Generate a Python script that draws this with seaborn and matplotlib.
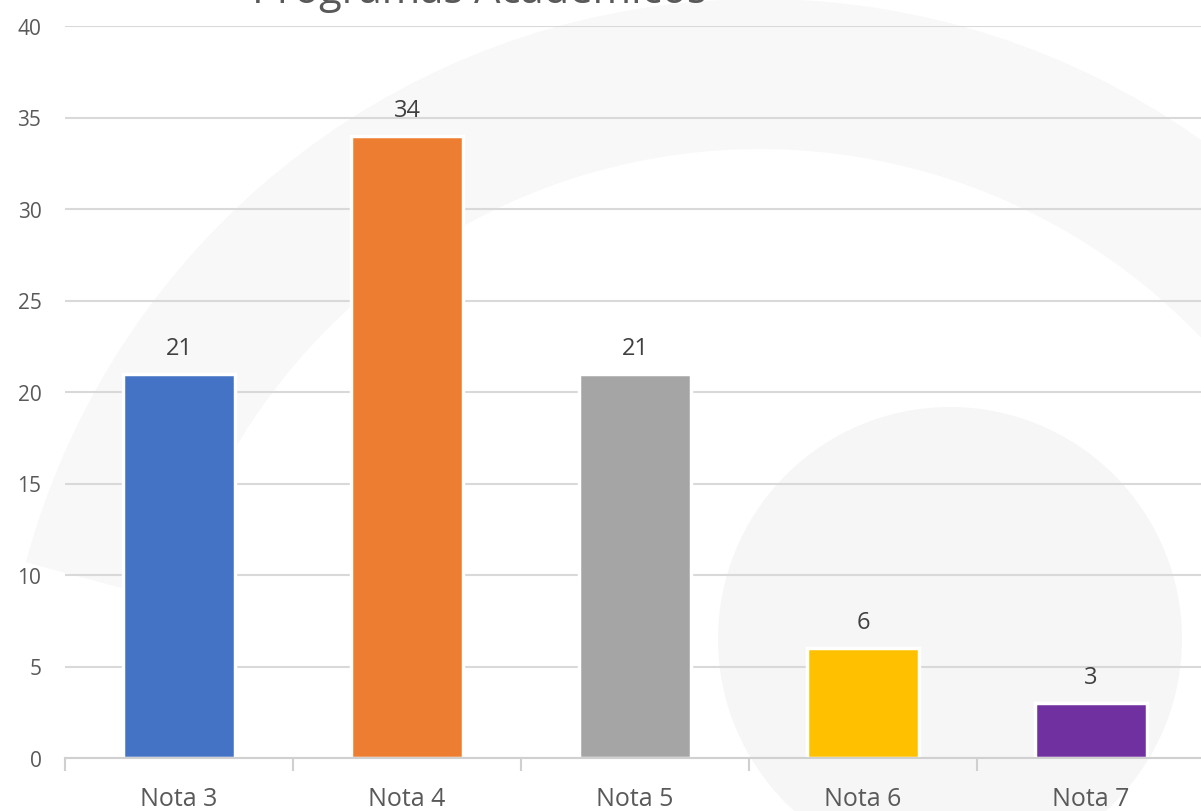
import matplotlib
matplotlib.use("Agg")
import matplotlib.pyplot as plt
from matplotlib.patches import Circle, Wedge
import seaborn as sns
import pandas as pd

categories = ["Nota 3", "Nota 4", "Nota 5", "Nota 6", "Nota 7"]
values = [21, 34, 21, 6, 3]
colors = ["#4472C4", "#ED7D31", "#A5A5A5", "#FFC000", "#7030A0"]
title = "Programas Académicos"

sns.set_theme(style="white")
plt.rcParams["font.family"] = ["Open Sans", "DejaVu Sans"]

df = pd.DataFrame({"cat": categories, "val": values})

fig = plt.figure(figsize=(12.01, 8.12), dpi=100)
fig.patch.set_facecolor("white")

# faint watermark shapes behind the chart
bg = fig.add_axes([0, 0, 1, 1], zorder=0)
bg.set_xlim(0, 1201)
bg.set_ylim(812, 0)
bg.axis("off")
bg.add_patch(Wedge((760, 760), 760, 195, 330, width=150, facecolor="#f8f8f8", edgecolor="none"))
bg.add_patch(Circle((950, 640), 232, facecolor="#f6f6f6", edgecolor="none"))

ax = fig.add_axes([65 / 1201, 53 / 812, 1140 / 1201, 732 / 812], zorder=1)
ax.patch.set_alpha(0)

sns.barplot(data=df, x="cat", y="val", hue="cat", palette=colors, legend=False,
            saturation=1, width=0.49, edgecolor="white", linewidth=2.5, ax=ax, zorder=3)

ax.set_ylim(0, 40)
ax.set_yticks(range(0, 41, 5))
ax.set_xlim(-0.5, len(categories) - 0.5)
ax.yaxis.grid(True, color="#d9d9d9", linewidth=1.5, zorder=0)
ax.xaxis.grid(False)
ax.set_xlabel("")
ax.set_ylabel("")

for s in ["top", "right", "left"]:
    ax.spines[s].set_visible(False)
ax.spines["bottom"].set_color("#d0d0d0")
ax.spines["bottom"].set_linewidth(1.5)
ax.spines["bottom"].set_zorder(4)

# category separators as minor tick marks
ax.set_xticks([i - 0.5 for i in range(len(categories) + 1)], minor=True)
ax.tick_params(axis="x", which="minor", length=9, width=1.5, color="#d0d0d0", bottom=True)
ax.tick_params(axis="x", which="major", length=0, pad=20, labelsize=18, labelcolor="#595959")
ax.tick_params(axis="y", length=0, pad=17, labelsize=15, labelcolor="#595959")

for i, v in enumerate(values):
    ax.annotate(str(v), (i, v), xytext=(0, 10), textcoords="offset points",
                ha="center", va="bottom", fontsize=17, color="#404040")

fig.text(479 / 1201, 1 - 3 / 812, title, ha="center", va="baseline",
         fontsize=30, color="#595959")

fig.savefig("out.png", dpi=100)
